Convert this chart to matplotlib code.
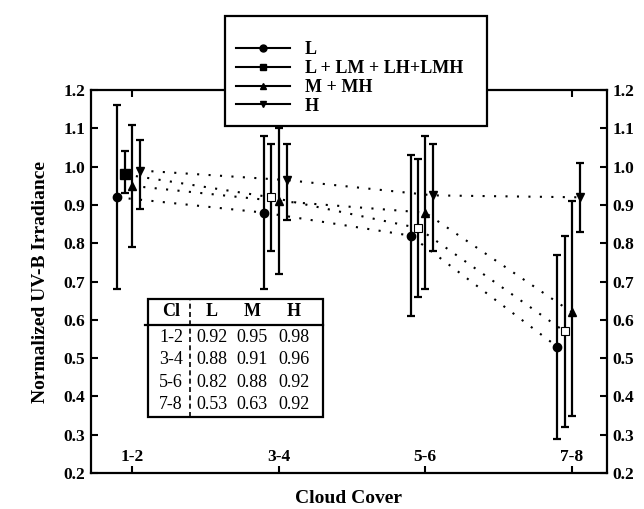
import matplotlib
matplotlib.use('Agg')
import matplotlib.pyplot as plt
from matplotlib.lines import Line2D
from matplotlib.patches import Rectangle
import numpy as np

# categorias de nubosidad (octas)
categorias = ['1-2', '3-4', '5-6', '7-8']
series = ['L', 'L + LM + LH+LMH', 'M + MH', 'H']

# valores normalizados, extremos de las barras de error
media_L = [0.92, 0.88, 0.82, 0.53]
inf_L = [0.68, 0.68, 0.61, 0.29]
sup_L = [1.16, 1.08, 1.03, 0.77]

media_LM = [0.98, 0.92, 0.84, 0.57]
inf_LM = [0.93, 0.78, 0.66, 0.32]
sup_LM = [1.04, 1.06, 1.02, 0.82]

media_M = [0.95, 0.91, 0.88, 0.62]
inf_M = [0.79, 0.72, 0.68, 0.35]
sup_M = [1.11, 1.10, 1.08, 0.91]

media_H = [0.99, 0.965, 0.925, 0.92]
inf_H = [0.89, 0.86, 0.78, 0.83]
sup_H = [1.07, 1.06, 1.06, 1.01]

# tabla insertada
tabla_cl = ['1-2', '3-4', '5-6', '7-8']
tabla_L = ['0.92', '0.88', '0.82', '0.53']
tabla_M = ['0.95', '0.91', '0.88', '0.63']
tabla_H = ['0.98', '0.96', '0.92', '0.92']

plt.rcParams['font.family'] = ['Liberation Serif', 'DejaVu Serif']
plt.rcParams['font.weight'] = 'bold'


def graficar():
    fig = plt.figure(figsize=(6.44, 5.09), dpi=100)
    ax = fig.add_axes([0.141, 0.0707, 0.8016, 0.7523])

    x = np.arange(1, len(categorias) + 1)
    datos = [(media_L, inf_L, sup_L), (media_LM, inf_LM, sup_LM),
             (media_M, inf_M, sup_M), (media_H, inf_H, sup_H)]
    desplaz = [-0.1, -0.05, 0.0, 0.055]
    marcas = ['o', 's', '^', 'v']
    tam = [6, 6, 5.5, 5.5]
    handles = []

    for i, (m, lo, hi) in enumerate(datos):
        m = np.array(m)
        err = [m - np.array(lo), np.array(hi) - m]
        xs = x + desplaz[i]
        ax.plot(xs, m, linestyle=(0, (1, 4.5)), color='k', lw=1.5, zorder=1)
        ax.errorbar(xs, m, yerr=err, fmt='none', ecolor='k', elinewidth=1.6,
                    capsize=3, capthick=1.6, zorder=2)
        if marcas[i] == 's':
            ax.plot(xs[:1], m[:1], 's', color='k', ms=6.5, zorder=3)
            ax.plot(xs[1:], m[1:], 's', mfc='white', mec='k', mew=0.8,
                    ms=tam[i], zorder=3)
        else:
            ax.plot(xs, m, marcas[i], color='k', ms=tam[i], zorder=3)
        handles.append(Line2D([], [], color='k', lw=1.5, marker=marcas[i],
                              ms=5))

    ax.set_xlim(0.72, 4.24)
    ax.set_ylim(0.2, 1.2)
    ax.set_xticks(x)
    ax.set_xticklabels(categorias)
    ax.set_yticks(np.arange(0.2, 1.21, 0.1))
    ax.set_yticklabels(['%.1f' % v for v in np.arange(0.2, 1.21, 0.1)])
    ax.tick_params(axis='both', direction='in', length=5, width=1.5,
                   labelsize=12.5)
    ax.tick_params(axis='y', right=True, labelright=True, pad=4)
    ax.tick_params(axis='x', top=True, pad=-17)
    for s in ax.spines.values():
        s.set_linewidth(1.6)

    ax.set_xlabel('Cloud Cover', fontsize=14, fontweight='bold', labelpad=12)
    ax.set_ylabel('Normalized UV-B Irradiance', fontsize=14,
                  fontweight='bold', labelpad=10)

    # tabla
    t = ax.transAxes
    ax.add_patch(Rectangle((0.1116, 0.147), 0.3378, 0.3065, transform=t,
                           fill=False, lw=1.6, color='k', zorder=4))
    ax.plot([0.105, 0.4494], [0.3864, 0.3864], transform=t, color='k',
            lw=1.6, zorder=4)
    ax.plot([0.1923, 0.1923], [0.147, 0.4535], transform=t, color='k',
            lw=1.2, linestyle=(0, (3, 2)), zorder=4)
    cols = [0.1555, 0.2349, 0.3124, 0.3938]
    for c, txt in zip(cols, ['Cl', 'L', 'M', 'H']):
        ax.text(c, 0.4205, txt, transform=t, ha='center', va='center',
                fontsize=13, fontweight='bold')
    filas_y = [0.3543, 0.2955, 0.2367, 0.178]
    for j, yy in enumerate(filas_y):
        vals = [tabla_cl[j], tabla_L[j], tabla_M[j], tabla_H[j]]
        for c, txt in zip(cols, vals):
            ax.text(c, yy, txt, transform=t, ha='center', va='center',
                    fontsize=13, fontweight='normal')

    # leyenda con mas aire arriba (titulo vacio)
    leg = fig.legend(handles, series, loc='upper left',
                     bbox_to_anchor=(0.349, 0.756, 0.407, 0.2126),
                     mode='expand', borderaxespad=0,
                     handlelength=3.0, handletextpad=0.78, borderpad=0.64,
                     labelspacing=0.1, fancybox=False, framealpha=1,
                     edgecolor='k', prop={'weight': 'bold', 'size': 13},
                     title=' ', title_fontsize=8.5)
    leg.get_frame().set_linewidth(1.6)
    leg.set_zorder(10)

    fig.savefig('out.png', dpi=100)


if __name__ == '__main__':
    graficar()
